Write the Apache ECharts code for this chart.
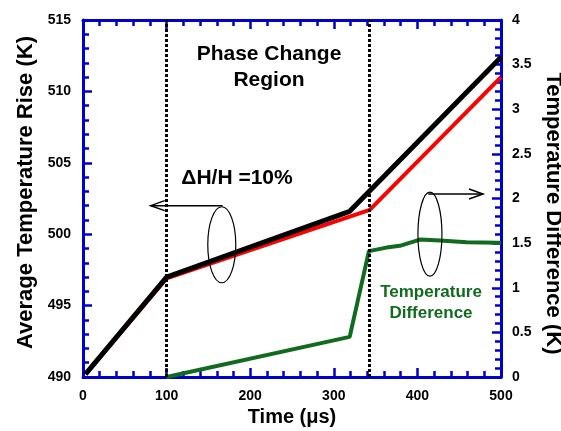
<!DOCTYPE html>
<html>
<head>
<meta charset="utf-8">
<script src="https://cdn.jsdelivr.net/npm/echarts@6/dist/echarts.min.js"></script>
<style>
    html, body { margin: 0; padding: 0; background: #fff; }
    #chart { width: 561px; height: 431px; }
</style>
</head>
<body>
<div id="chart"></div>
<script>
    // data
    const timeAvg = [3, 100, 319, 500]
    const avgRise = [490.2, 497.0, 501.6, 512.4]
    const timeAvgRed = [3, 100, 343, 500]
    const avgRiseRed = [490.2, 496.9, 501.7, 511.0]
    const timeDiff = [100, 319, 342, 363, 379, 403, 427, 459, 495, 500]
    const tempDiff = [0, 0.45, 1.41, 1.45, 1.47, 1.54, 1.53, 1.51, 1.505, 1.505]
    const phaseBounds = [100, 342]

    const blue = '#0000CC'
    const green = '#116B1E'
    const font = 'Arial, "Liberation Sans", sans-serif'

    const pairs = (xs, ys) => xs.map((x, i) => [x, ys[i]])

    const chart = echarts.init(document.getElementById('chart'))

    const axisCommon = {
        axisLine: { show: true, onZero: false, lineStyle: { color: blue, width: 3 } },
        axisTick: { show: true, inside: true, length: 9, lineStyle: { color: blue, width: 2.5 } },
        minorTick: { show: true, splitNumber: 5, length: 6, lineStyle: { color: blue, width: 2.5 } },
        splitLine: { show: false },
        axisLabel: { color: '#000', fontWeight: 'bold', fontSize: 14, fontFamily: font }
    }
    const titleStyle = { color: '#000', fontWeight: 'bold', fontSize: 22, fontFamily: font }

    const option = {
        animation: false,
        grid: { left: 83, right: 60, top: 20, bottom: 54, containLabel: false, outerBoundsMode: 'none' },
        xAxis: [
            Object.assign({}, axisCommon, {
                type: 'value', min: 0, max: 500, interval: 100,
                name: 'Time (μs)', nameLocation: 'middle', nameGap: 22,
                nameTextStyle: Object.assign({}, titleStyle, { fontSize: 20 }),
                axisLabel: Object.assign({}, axisCommon.axisLabel, { margin: 12 })
            }),
            Object.assign({}, axisCommon, {
                type: 'value', min: 0, max: 500, interval: 100, position: 'top',
                axisLabel: { show: false }
            })
        ],
        yAxis: [
            Object.assign({}, axisCommon, {
                type: 'value', min: 490, max: 515, interval: 5,
                name: 'Average Temperature Rise (K)', nameLocation: 'middle', nameGap: 45,
                nameTextStyle: Object.assign({}, titleStyle, { padding: [0, 0, 0, 12] }),
                axisLabel: Object.assign({}, axisCommon.axisLabel, { margin: 12 })
            }),
            Object.assign({}, axisCommon, {
                type: 'value', min: 0, max: 4, interval: 0.5, position: 'right',
                name: 'Temperature Difference (K)', nameLocation: 'middle', nameGap: 39, nameRotate: -90,
                nameTextStyle: Object.assign({}, titleStyle, { padding: [0, 0, 0, 30] }),
                axisLabel: Object.assign({}, axisCommon.axisLabel, { margin: 11 })
            })
        ],
        series: [
            {
                name: 'avg red', type: 'line', xAxisIndex: 0, yAxisIndex: 0,
                data: pairs(timeAvgRed, avgRiseRed), showSymbol: false,
                lineStyle: { color: '#FF0000', width: 4 }, z: 3
            },
            {
                name: 'avg black', type: 'line', xAxisIndex: 0, yAxisIndex: 0,
                data: pairs(timeAvg, avgRise), showSymbol: false,
                lineStyle: { color: '#000', width: 5 }, z: 4,
                markLine: {
                    silent: true, symbol: 'none', label: { show: false },
                    lineStyle: { color: '#000', width: 3, type: [3, 2] },
                    data: phaseBounds.map(x => ({ xAxis: x }))
                }
            },
            {
                name: 'diff', type: 'line', xAxisIndex: 0, yAxisIndex: 1,
                data: pairs(timeDiff, tempDiff), showSymbol: false,
                lineStyle: { color: green, width: 4 }, z: 3
            }
        ]
    }

    chart.setOption(option)

    // annotations placed via the axes
    const pL = (x, y) => chart.convertToPixel({ xAxisIndex: 0, yAxisIndex: 0 }, [x, y])
    const pR = (x, y) => chart.convertToPixel({ xAxisIndex: 0, yAxisIndex: 1 }, [x, y])

    const la0 = pL(167, 502.0), la1 = pL(81, 502.0), le = pL(166, 499.26)
    const ra0 = pR(413, 2.05), ra1 = pR(478.5, 2.05), re = pR(415, 1.6)
    const stroke = { stroke: '#000', lineWidth: 1.5, fill: null }
    const head = 14, half = 5

    const txt = (x, y, s, size, color) => ({
        type: 'text', x: x, y: y, z: 20,
        style: { text: s, fill: color || '#000', font: 'bold ' + size + 'px ' + font, textAlign: 'center', textVerticalAlign: 'middle' }
    })

    chart.setOption({
        graphic: [
            { type: 'line', shape: { x1: la0[0], y1: la0[1], x2: la1[0], y2: la1[1] }, style: stroke, z: 20 },
            { type: 'polyline', shape: { points: [[la1[0] + head, la1[1] - half], [la1[0], la1[1]], [la1[0] + head, la1[1] + half]] }, style: stroke, z: 20 },
            { type: 'ellipse', shape: { cx: le[0], cy: le[1], rx: 14, ry: 38 }, style: { stroke: '#000', lineWidth: 1.2, fill: null }, z: 20 },
            { type: 'line', shape: { x1: ra0[0], y1: ra0[1], x2: ra1[0], y2: ra1[1] }, style: stroke, z: 20 },
            { type: 'polyline', shape: { points: [[ra1[0] - head, ra1[1] - half], [ra1[0], ra1[1]], [ra1[0] - head, ra1[1] + half]] }, style: stroke, z: 20 },
            { type: 'ellipse', shape: { cx: re[0], cy: re[1], rx: 12, ry: 42 }, style: { stroke: '#000', lineWidth: 1.2, fill: null }, z: 20 },
            txt(269, 54, 'Phase Change', 21),
            txt(269, 80, 'Region', 21),
            txt(237, 178, 'ΔH/H =10%', 21),
            txt(431, 292, 'Temperature', 17, green),
            txt(431, 313, 'Difference', 17, green)
        ]
    })
</script>
</body>
</html>
